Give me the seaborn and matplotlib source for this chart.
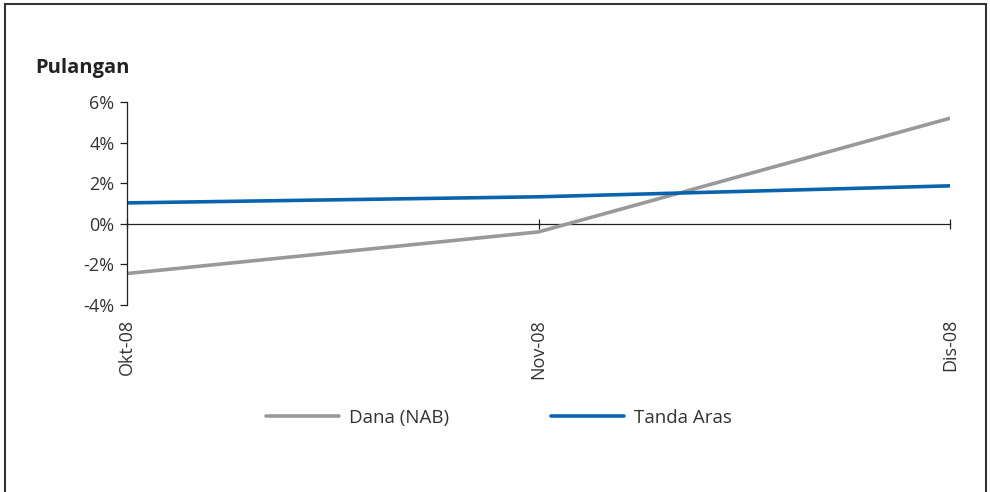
import matplotlib
matplotlib.use("Agg")
import matplotlib.pyplot as plt
import matplotlib.lines as mlines
import seaborn as sns
import pandas as pd
from matplotlib.ticker import FuncFormatter

months = ["Okt-08", "Nov-08", "Dis-08"]
dana = [-2.45, -0.4, 5.2]
tanda = [1.03, 1.33, 1.87]
series_names = ["Dana (NAB)", "Tanda Aras"]
yticks = [-4, -2, 0, 2, 4, 6]

df = pd.DataFrame({
    "x": list(range(len(months))) * 2,
    "val": dana + tanda,
    "series": [series_names[0]] * len(months) + [series_names[1]] * len(months),
})

sns.set_theme(style="white")
plt.rcParams["font.family"] = ["Open Sans", "DejaVu Sans"]

fig = plt.figure(figsize=(9.9, 4.92), dpi=100)
ax = fig.add_axes([127 / 990, 1 - 305 / 492, (950 - 127) / 990, (305 - 102) / 492])

palette = {series_names[0]: "#999999", series_names[1]: "#0a64ad"}
sns.lineplot(data=df, x="x", y="val", hue="series", palette=palette,
             linewidth=2.6, ax=ax, legend=False)

ax.set_xlim(0, len(months) - 1)
ax.set_ylim(-4, 6)
ax.set_yticks(yticks)
ax.yaxis.set_major_formatter(FuncFormatter(lambda v, p: f"{v:.0f}%"))
ax.set_xticks(range(len(months)))
ax.set_xticklabels(months)
ax.set_xlabel("")
ax.set_ylabel("")

for s in ["top", "right"]:
    ax.spines[s].set_visible(False)
ax.spines["bottom"].set_position(("data", 0))
for s in ["left", "bottom"]:
    ax.spines[s].set_color("#222222")
    ax.spines[s].set_linewidth(0.9)
ax.spines["bottom"].set_zorder(1)

ax.tick_params(axis="y", direction="out", length=5, width=0.9, color="#222222",
               labelsize=13, labelcolor="#333333", pad=4, left=True)
ax.tick_params(axis="x", direction="inout", length=7, width=0.9, color="#222222",
               labelsize=13, labelcolor="#333333", pad=65, bottom=True,
               labelrotation=90)
for lbl in ax.get_xticklabels():
    lbl.set_verticalalignment("top")
    lbl.set_horizontalalignment("center")

fig.text(35 / 990, 1 - 68 / 492, "Pulangan", fontsize=14.5, fontweight="bold",
         color="#222222", ha="left", va="center")

handles = [mlines.Line2D([], [], color=palette[n], linewidth=2.6) for n in series_names]
fig.legend(handles, series_names, loc="center", bbox_to_anchor=(499 / 990, 1 - 418 / 492),
           ncol=2, frameon=False, fontsize=13.5, handlelength=3.9, handletextpad=0.55,
           columnspacing=5.4, labelcolor="#333333")

# outer frame
for (x0, y0, x1, y1) in [(5, 492, 5, 4), (5, 4, 986, 4), (986, 4, 986, 492)]:
    fig.add_artist(mlines.Line2D([x0 / 990, x1 / 990], [1 - y0 / 492, 1 - y1 / 492],
                                 color="#333333", linewidth=1.5, transform=fig.transFigure))

fig.savefig("out.png", dpi=100)
